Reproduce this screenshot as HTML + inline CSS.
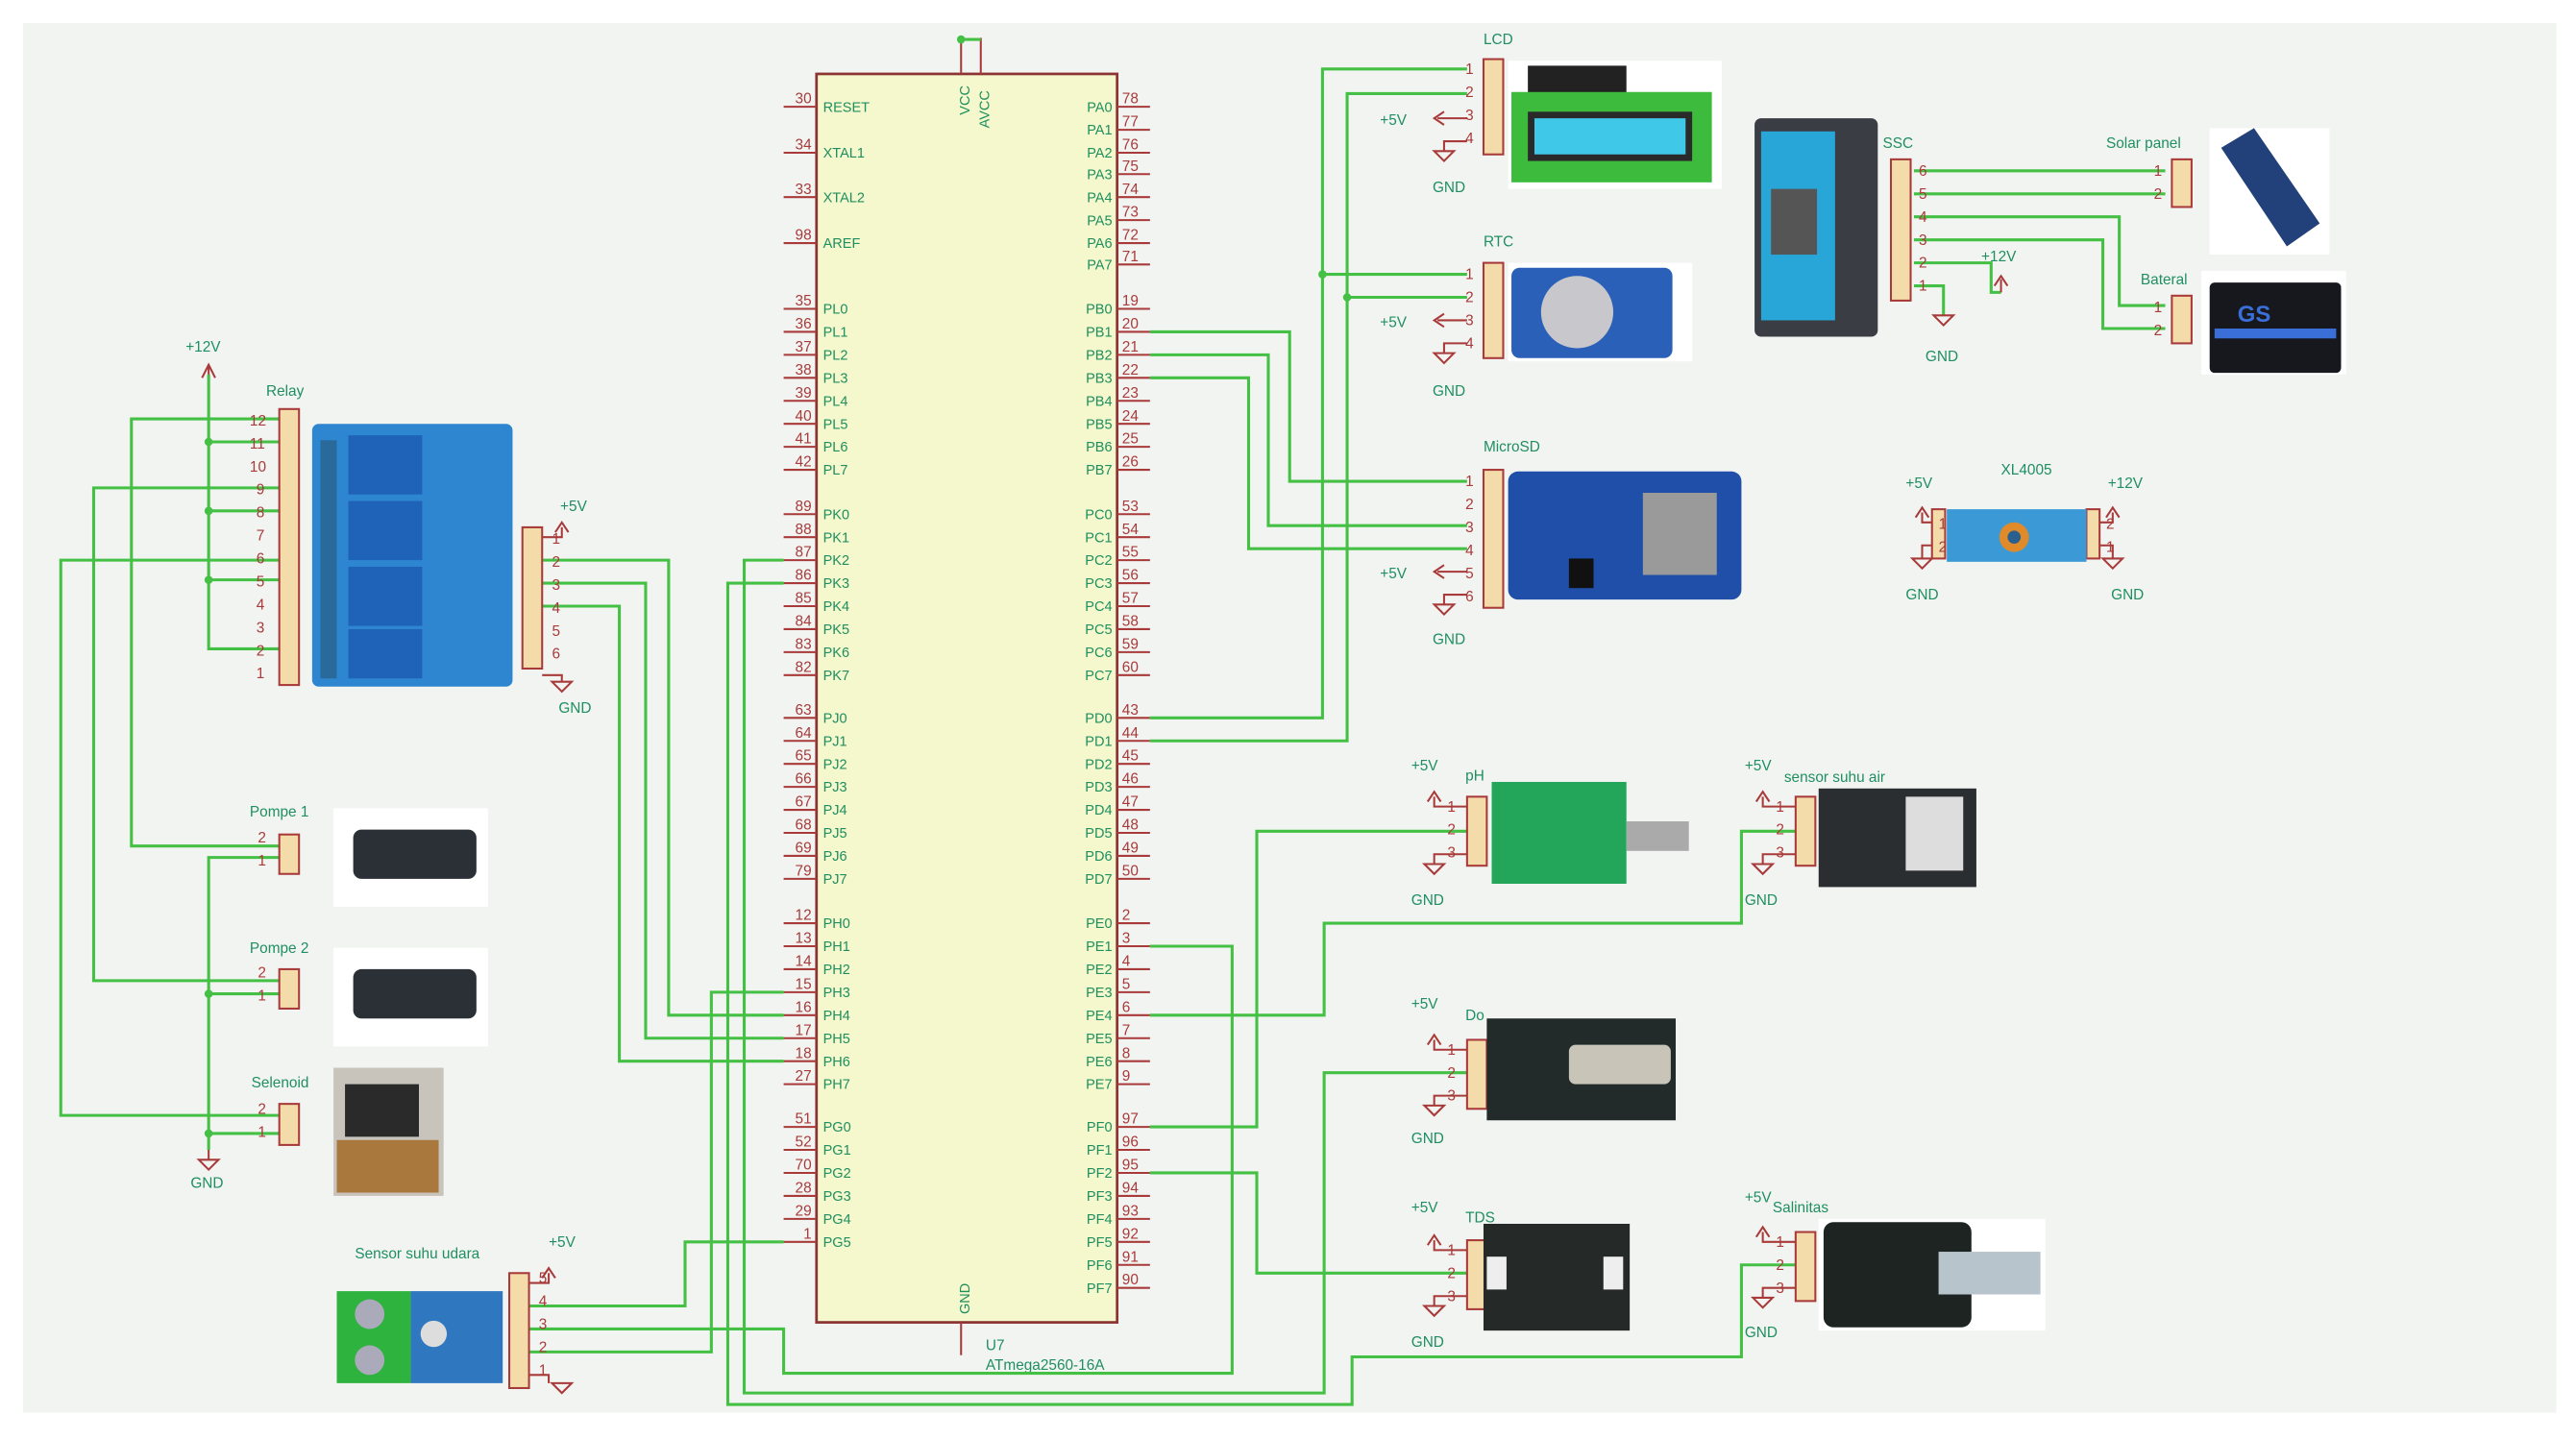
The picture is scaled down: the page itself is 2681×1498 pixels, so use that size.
<!DOCTYPE html>
<html><head><meta charset="utf-8"><style>
html,body{margin:0;padding:0;background:#fff;}
svg{display:block;}
text{font-family:"Liberation Sans",sans-serif;}
.n{fill:#a83a3a;font-size:9px;}
.g{fill:#1f8f60;font-size:8.5px;}
.t{fill:#1f8f60;font-size:9px;}
.w{stroke:#44c044;stroke-width:1.8;fill:none;}
.p{stroke:#a83a3a;stroke-width:1.2;fill:none;}
.c{fill:#f3dcaa;stroke:#a83a3a;stroke-width:1.2;}
</style></head><body>
<svg width="2681" height="1498" viewBox="0 0 1568 876" preserveAspectRatio="none" xmlns="http://www.w3.org/2000/svg">
<rect x="0" y="0" width="1568" height="876" fill="#fff"/>
<rect x="14" y="14" width="1542" height="846" fill="#f2f4f2"/>

<!-- MCU -->
<rect x="497" y="45" width="183" height="760" fill="#f4f8cc" stroke="#8c3434" stroke-width="1.6"/>
<path class="p" d="M585 45v-22M597 45v-22M585 805v20"/>
<path d="M585 24h12" stroke="#44c044" stroke-width="1.8"/>
<text class="g" transform="translate(590,70) rotate(-90)">VCC</text>
<text class="g" transform="translate(602,78) rotate(-90)">AVCC</text>
<text class="g" transform="translate(590,800) rotate(-90)">GND</text>
<text class="t" x="600" y="822">U7</text>
<text class="t" x="600" y="834">ATmega2560-16A</text>

<!-- left pins -->
<path class="p" d="M477 65h20M477 93h20M477 120h20M477 148h20
M477 188h20M477 202h20M477 216h20M477 230h20M477 244h20M477 258h20M477 272h20M477 286h20
M477 313h20M477 327h20M477 341h20M477 355h20M477 369h20M477 383h20M477 397h20M477 411h20
M477 437h20M477 451h20M477 465h20M477 479h20M477 493h20M477 507h20M477 521h20M477 535h20
M477 562h20M477 576h20M477 590h20M477 604h20M477 618h20M477 632h20M477 646h20M477 660h20
M477 686h20M477 700h20M477 714h20M477 728h20M477 742h20M477 756h20
M680 65h20M680 79h20M680 93h20M680 106h20M680 120h20M680 134h20M680 148h20M680 161h20
M680 188h20M680 202h20M680 216h20M680 230h20M680 244h20M680 258h20M680 272h20M680 286h20
M680 313h20M680 327h20M680 341h20M680 355h20M680 369h20M680 383h20M680 397h20M680 411h20
M680 437h20M680 451h20M680 465h20M680 479h20M680 493h20M680 507h20M680 521h20M680 535h20
M680 562h20M680 576h20M680 590h20M680 604h20M680 618h20M680 632h20M680 646h20M680 660h20
M680 686h20M680 700h20M680 714h20M680 728h20M680 742h20M680 756h20M680 770h20M680 784h20"/>
<g class="n" text-anchor="end">
<text x="494" y="63">30</text><text x="494" y="91">34</text><text x="494" y="118">33</text><text x="494" y="146">98</text>
<text x="494" y="186">35</text><text x="494" y="200">36</text><text x="494" y="214">37</text><text x="494" y="228">38</text><text x="494" y="242">39</text><text x="494" y="256">40</text><text x="494" y="270">41</text><text x="494" y="284">42</text>
<text x="494" y="311">89</text><text x="494" y="325">88</text><text x="494" y="339">87</text><text x="494" y="353">86</text><text x="494" y="367">85</text><text x="494" y="381">84</text><text x="494" y="395">83</text><text x="494" y="409">82</text>
<text x="494" y="435">63</text><text x="494" y="449">64</text><text x="494" y="463">65</text><text x="494" y="477">66</text><text x="494" y="491">67</text><text x="494" y="505">68</text><text x="494" y="519">69</text><text x="494" y="533">79</text>
<text x="494" y="560">12</text><text x="494" y="574">13</text><text x="494" y="588">14</text><text x="494" y="602">15</text><text x="494" y="616">16</text><text x="494" y="630">17</text><text x="494" y="644">18</text><text x="494" y="658">27</text>
<text x="494" y="684">51</text><text x="494" y="698">52</text><text x="494" y="712">70</text><text x="494" y="726">28</text><text x="494" y="740">29</text><text x="494" y="754">1</text>
</g>
<g class="g">
<text x="501" y="68">RESET</text><text x="501" y="96">XTAL1</text><text x="501" y="123">XTAL2</text><text x="501" y="151">AREF</text>
<text x="501" y="191">PL0</text><text x="501" y="205">PL1</text><text x="501" y="219">PL2</text><text x="501" y="233">PL3</text><text x="501" y="247">PL4</text><text x="501" y="261">PL5</text><text x="501" y="275">PL6</text><text x="501" y="289">PL7</text>
<text x="501" y="316">PK0</text><text x="501" y="330">PK1</text><text x="501" y="344">PK2</text><text x="501" y="358">PK3</text><text x="501" y="372">PK4</text><text x="501" y="386">PK5</text><text x="501" y="400">PK6</text><text x="501" y="414">PK7</text>
<text x="501" y="440">PJ0</text><text x="501" y="454">PJ1</text><text x="501" y="468">PJ2</text><text x="501" y="482">PJ3</text><text x="501" y="496">PJ4</text><text x="501" y="510">PJ5</text><text x="501" y="524">PJ6</text><text x="501" y="538">PJ7</text>
<text x="501" y="565">PH0</text><text x="501" y="579">PH1</text><text x="501" y="593">PH2</text><text x="501" y="607">PH3</text><text x="501" y="621">PH4</text><text x="501" y="635">PH5</text><text x="501" y="649">PH6</text><text x="501" y="663">PH7</text>
<text x="501" y="689">PG0</text><text x="501" y="703">PG1</text><text x="501" y="717">PG2</text><text x="501" y="731">PG3</text><text x="501" y="745">PG4</text><text x="501" y="759">PG5</text>
</g>
<g class="g" text-anchor="end">
<text x="677" y="68">PA0</text><text x="677" y="82">PA1</text><text x="677" y="96">PA2</text><text x="677" y="109">PA3</text><text x="677" y="123">PA4</text><text x="677" y="137">PA5</text><text x="677" y="151">PA6</text><text x="677" y="164">PA7</text>
<text x="677" y="191">PB0</text><text x="677" y="205">PB1</text><text x="677" y="219">PB2</text><text x="677" y="233">PB3</text><text x="677" y="247">PB4</text><text x="677" y="261">PB5</text><text x="677" y="275">PB6</text><text x="677" y="289">PB7</text>
<text x="677" y="316">PC0</text><text x="677" y="330">PC1</text><text x="677" y="344">PC2</text><text x="677" y="358">PC3</text><text x="677" y="372">PC4</text><text x="677" y="386">PC5</text><text x="677" y="400">PC6</text><text x="677" y="414">PC7</text>
<text x="677" y="440">PD0</text><text x="677" y="454">PD1</text><text x="677" y="468">PD2</text><text x="677" y="482">PD3</text><text x="677" y="496">PD4</text><text x="677" y="510">PD5</text><text x="677" y="524">PD6</text><text x="677" y="538">PD7</text>
<text x="677" y="565">PE0</text><text x="677" y="579">PE1</text><text x="677" y="593">PE2</text><text x="677" y="607">PE3</text><text x="677" y="621">PE4</text><text x="677" y="635">PE5</text><text x="677" y="649">PE6</text><text x="677" y="663">PE7</text>
<text x="677" y="689">PF0</text><text x="677" y="703">PF1</text><text x="677" y="717">PF2</text><text x="677" y="731">PF3</text><text x="677" y="745">PF4</text><text x="677" y="759">PF5</text><text x="677" y="773">PF6</text><text x="677" y="787">PF7</text>
</g>
<g class="n">
<text x="683" y="63">78</text><text x="683" y="77">77</text><text x="683" y="91">76</text><text x="683" y="104">75</text><text x="683" y="118">74</text><text x="683" y="132">73</text><text x="683" y="146">72</text><text x="683" y="159">71</text>
<text x="683" y="186">19</text><text x="683" y="200">20</text><text x="683" y="214">21</text><text x="683" y="228">22</text><text x="683" y="242">23</text><text x="683" y="256">24</text><text x="683" y="270">25</text><text x="683" y="284">26</text>
<text x="683" y="311">53</text><text x="683" y="325">54</text><text x="683" y="339">55</text><text x="683" y="353">56</text><text x="683" y="367">57</text><text x="683" y="381">58</text><text x="683" y="395">59</text><text x="683" y="409">60</text>
<text x="683" y="435">43</text><text x="683" y="449">44</text><text x="683" y="463">45</text><text x="683" y="477">46</text><text x="683" y="491">47</text><text x="683" y="505">48</text><text x="683" y="519">49</text><text x="683" y="533">50</text>
<text x="683" y="560">2</text><text x="683" y="574">3</text><text x="683" y="588">4</text><text x="683" y="602">5</text><text x="683" y="616">6</text><text x="683" y="630">7</text><text x="683" y="644">8</text><text x="683" y="658">9</text>
<text x="683" y="684">97</text><text x="683" y="698">96</text><text x="683" y="712">95</text><text x="683" y="726">94</text><text x="683" y="740">93</text><text x="683" y="754">92</text><text x="683" y="768">91</text><text x="683" y="782">90</text>
</g>

<!-- WIRES -->
<g class="w">
<!-- relay left -->
<path d="M170 255H80V515H170"/>
<path d="M170 297H57V597H170"/>
<path d="M170 341H37V679H170"/>
<path d="M127 228V395H170M127 269H170M127 311H170M127 353H170"/>
<path d="M170 522H127V700M127 605H170M127 690H170"/>
<!-- relay right to MCU -->
<path d="M330 341H407V618H477"/>
<path d="M330 355H393V632H477"/>
<path d="M330 369H377V646H477"/>
<!-- sensor suhu udara -->
<path d="M322 795H417V756H477"/>
<path d="M322 809H477V836H750V576H700"/>
<path d="M322 823H433V604H477"/>
<!-- PK2 / PK3 -->
<path d="M477 341H453V848H806V653H893"/>
<path d="M477 355H443V855H823V826H1060V770H1093"/>
<!-- right side -->
<path d="M700 437H805V42H893M805 167H893"/>
<path d="M700 451H820V57H893M820 181H893"/>
<path d="M700 202H785V293H893"/>
<path d="M700 216H772V320H893"/>
<path d="M700 230H760V334H893"/>
<path d="M700 686H765V506H893"/>
<path d="M700 618H806V562H1060V506H1093"/>
<path d="M700 714H765V775H893"/>
<!-- SSC -->
<path d="M1165 104H1318M1165 118H1318M1165 132H1290V186H1318M1165 146H1280V200H1318M1165 160H1212V178H1218M1165 174H1183V192"/>
</g>
<g fill="#44c044">
<circle cx="127" cy="269" r="2.5"/><circle cx="127" cy="311" r="2.5"/><circle cx="127" cy="353" r="2.5"/>
<circle cx="127" cy="605" r="2.5"/><circle cx="127" cy="690" r="2.5"/>
<circle cx="805" cy="167" r="2.5"/><circle cx="820" cy="181" r="2.5"/>
<circle cx="585" cy="24" r="2.5"/>
</g>

<!-- power symbols -->
<g class="p">
<path d="M127 228V222M123 230l4-8 4 8"/>
<path d="M127 700v6M121 706h12l-6 6z"/>
<path d="M330 327h12v-6M338 324l4-6 4 6"/>
<path d="M330 411h12v4M336 415h12l-6 6z"/>
<path d="M322 781h12v-6M330 778l4-6 4 6"/>
<path d="M322 837h12v5M336 842h12l-6 6z"/>
<path d="M893 72h-18M879 68l-6 4 6 4M893 86h-14v6M873 92h12l-6 6z"/>
<path d="M893 195h-18M879 191l-6 4 6 4M893 209h-14v6M873 215h12l-6 6z"/>
<path d="M893 348h-18M879 344l-6 4 6 4M893 362h-14v6M873 368h12l-6 6z"/>
<path d="M1218 178v-8M1214 174l4-6 4 6M1183 192h-6l6 6 6-6z"/>
<path d="M893 491h-20v-6M869 488l4-6 4 6M893 520h-20v6M867 526h12l-6 6z"/>
<path d="M1093 491h-20v-6M1069 488l4-6 4 6M1093 520h-20v6M1067 526h12l-6 6z"/>
<path d="M893 639h-20v-6M869 636l4-6 4 6M893 667h-20v6M867 673h12l-6 6z"/>
<path d="M893 761h-20v-6M869 758l4-6 4 6M893 789h-20v6M867 795h12l-6 6z"/>
<path d="M1093 756h-20v-6M1069 753l4-6 4 6M1093 784h-20v6M1067 790h12l-6 6z"/>
<path d="M1178 318h-8v-6M1166 315l4-6 4 6M1178 332h-8v8M1164 340h12l-6 6z"/>
<path d="M1278 318h8v-6M1282 315l4-6 4 6M1278 332h8v8M1280 340h12l-6 6z"/>
</g>

<!-- connectors -->
<g class="c">
<rect x="170" y="249" width="12" height="168"/>
<rect x="318" y="321" width="12" height="86"/>
<rect x="170" y="508" width="12" height="24"/>
<rect x="170" y="590" width="12" height="24"/>
<rect x="170" y="672" width="12" height="25"/>
<rect x="310" y="775" width="12" height="70"/>
<rect x="903" y="36" width="12" height="58"/>
<rect x="903" y="160" width="12" height="58"/>
<rect x="903" y="286" width="12" height="84"/>
<rect x="1151" y="97" width="12" height="86"/>
<rect x="1322" y="97" width="12" height="29"/>
<rect x="1322" y="180" width="12" height="29"/>
<rect x="893" y="485" width="12" height="42"/>
<rect x="1093" y="485" width="12" height="42"/>
<rect x="893" y="633" width="12" height="42"/>
<rect x="893" y="755" width="12" height="42"/>
<rect x="1093" y="750" width="12" height="42"/>
<rect x="1176" y="310" width="8" height="30"/><rect x="1270" y="310" width="8" height="30"/>
</g>
<g class="n">
<text x="152" y="259">12</text><text x="152" y="273">11</text><text x="152" y="287">10</text><text x="156" y="301">9</text><text x="156" y="315">8</text><text x="156" y="329">7</text><text x="156" y="343">6</text><text x="156" y="357">5</text><text x="156" y="371">4</text><text x="156" y="385">3</text><text x="156" y="399">2</text><text x="156" y="413">1</text>
<text x="336" y="331">1</text><text x="336" y="345">2</text><text x="336" y="359">3</text><text x="336" y="373">4</text><text x="336" y="387">5</text><text x="336" y="401">6</text>
<text x="157" y="513">2</text><text x="157" y="527">1</text><text x="157" y="595">2</text><text x="157" y="609">1</text><text x="157" y="678">2</text><text x="157" y="692">1</text>
<text x="328" y="781">5</text><text x="328" y="795">4</text><text x="328" y="809">3</text><text x="328" y="823">2</text><text x="328" y="837">1</text>
<text x="892" y="45">1</text><text x="892" y="59">2</text><text x="892" y="73">3</text><text x="892" y="87">4</text>
<text x="892" y="170">1</text><text x="892" y="184">2</text><text x="892" y="198">3</text><text x="892" y="212">4</text>
<text x="892" y="296">1</text><text x="892" y="310">2</text><text x="892" y="324">3</text><text x="892" y="338">4</text><text x="892" y="352">5</text><text x="892" y="366">6</text>
<text x="1168" y="107">6</text><text x="1168" y="121">5</text><text x="1168" y="135">4</text><text x="1168" y="149">3</text><text x="1168" y="163">2</text><text x="1168" y="177">1</text>
<text x="1311" y="107">1</text><text x="1311" y="121">2</text><text x="1311" y="190">1</text><text x="1311" y="204">2</text>
<text x="881" y="494">1</text><text x="881" y="508">2</text><text x="881" y="522">3</text>
<text x="1081" y="494">1</text><text x="1081" y="508">2</text><text x="1081" y="522">3</text>
<text x="881" y="642">1</text><text x="881" y="656">2</text><text x="881" y="670">3</text>
<text x="881" y="764">1</text><text x="881" y="778">2</text><text x="881" y="792">3</text>
<text x="1081" y="759">1</text><text x="1081" y="773">2</text><text x="1081" y="787">3</text>
<text x="1180" y="322">1</text><text x="1180" y="336">2</text><text x="1282" y="322">2</text><text x="1282" y="336">1</text>
</g>

<!-- labels -->
<g class="t">
<text x="113" y="214">+12V</text><text x="162" y="241">Relay</text><text x="341" y="311">+5V</text><text x="340" y="434">GND</text>
<text x="152" y="497">Pompe 1</text><text x="152" y="580">Pompe 2</text><text x="153" y="662">Selenoid</text><text x="116" y="723">GND</text>
<text x="216" y="766">Sensor suhu udara</text><text x="334" y="759">+5V</text>
<text x="903" y="27">LCD</text><text x="840" y="76">+5V</text><text x="872" y="117">GND</text>
<text x="903" y="150">RTC</text><text x="840" y="199">+5V</text><text x="872" y="241">GND</text>
<text x="903" y="275">MicroSD</text><text x="840" y="352">+5V</text><text x="872" y="392">GND</text>
<text x="1146" y="90">SSC</text><text x="1282" y="90">Solar panel</text><text x="1303" y="173">Bateral</text><text x="1206" y="159">+12V</text><text x="1172" y="220">GND</text>
<text x="1160" y="297">+5V</text><text x="1218" y="289">XL4005</text><text x="1283" y="297">+12V</text><text x="1160" y="365">GND</text><text x="1285" y="365">GND</text>
<text x="859" y="469">+5V</text><text x="892" y="475">pH</text><text x="859" y="551">GND</text>
<text x="1062" y="469">+5V</text><text x="1086" y="476">sensor suhu air</text><text x="1062" y="551">GND</text>
<text x="859" y="614">+5V</text><text x="892" y="621">Do</text><text x="859" y="696">GND</text>
<text x="859" y="738">+5V</text><text x="892" y="744">TDS</text><text x="859" y="820">GND</text>
<text x="1062" y="732">+5V</text><text x="1079" y="738">Salinitas</text><text x="1062" y="814">GND</text>
</g>

<!-- module pictures -->
<rect x="190" y="258" width="122" height="160" rx="4" fill="#2f86d0"/>
<rect x="212" y="265" width="45" height="36" fill="#1e63b8"/><rect x="212" y="305" width="45" height="36" fill="#1e63b8"/><rect x="212" y="345" width="45" height="36" fill="#1e63b8"/><rect x="212" y="383" width="45" height="30" fill="#1e63b8"/>
<rect x="195" y="268" width="10" height="145" fill="#2a6a9a"/>
<rect x="203" y="492" width="94" height="60" fill="#fff"/><rect x="215" y="505" width="75" height="30" rx="5" fill="#2b2f36"/>
<rect x="203" y="577" width="94" height="60" fill="#fff"/><rect x="215" y="590" width="75" height="30" rx="5" fill="#2b2f36"/>
<rect x="203" y="650" width="67" height="78" fill="#c8c4bc"/><rect x="210" y="660" width="45" height="32" fill="#2a2a2a"/><rect x="205" y="694" width="62" height="32" fill="#a8783c"/>
<rect x="205" y="786" width="45" height="56" fill="#2fb33f"/><rect x="250" y="786" width="56" height="56" fill="#2f78c0"/><circle cx="264" cy="812" r="8" fill="#ddd"/><circle cx="225" cy="800" r="9" fill="#aab"/><circle cx="225" cy="828" r="9" fill="#aab"/>
<rect x="918" y="37" width="130" height="78" fill="#fff"/><rect x="930" y="40" width="60" height="20" fill="#222"/><rect x="920" y="56" width="122" height="55" fill="#3dbb3d"/><rect x="930" y="68" width="100" height="30" fill="#2a2a2a"/><rect x="934" y="72" width="92" height="22" fill="#40c8e8"/>
<rect x="1068" y="72" width="75" height="133" rx="4" fill="#3a3e44"/><rect x="1072" y="80" width="45" height="115" fill="#29a6d8"/><rect x="1078" y="115" width="28" height="40" fill="#555"/>
<rect x="1345" y="78" width="73" height="77" fill="#fff"/><path d="M1352 90l20-12 40 58-20 14z" fill="#22407a"/>
<rect x="1340" y="165" width="88" height="63" fill="#fff"/><rect x="1345" y="172" width="80" height="55" rx="3" fill="#16181e"/><text x="1362" y="196" fill="#3a6fd8" font-size="14" font-weight="bold">GS</text><rect x="1348" y="200" width="74" height="6" fill="#3a6fd8"/>
<rect x="918" y="160" width="112" height="60" fill="#fff"/><rect x="920" y="163" width="98" height="55" rx="5" fill="#2a60b8"/><circle cx="960" cy="190" r="22" fill="#c8c8cc"/>
<rect x="918" y="287" width="142" height="78" rx="6" fill="#1f4fa8"/><rect x="1000" y="300" width="45" height="50" fill="#9a9a9a"/><rect x="955" y="340" width="15" height="18" fill="#111"/>
<rect x="1185" y="310" width="85" height="32" fill="#3b9ad6"/><circle cx="1226" cy="327" r="9" fill="#e08a2a"/><circle cx="1226" cy="327" r="4" fill="#2a6090"/>
<rect x="908" y="476" width="82" height="62" fill="#23a65a"/><rect x="990" y="500" width="38" height="18" fill="#aaa"/>
<rect x="1107" y="480" width="96" height="60" fill="#2a2e30"/><rect x="1160" y="485" width="35" height="45" fill="#ddd"/>
<rect x="905" y="620" width="115" height="62" fill="#222b2a"/><rect x="955" y="636" width="62" height="24" rx="4" fill="#c8c4b8"/>
<rect x="903" y="745" width="89" height="65" fill="#252a28"/><rect x="905" y="765" width="12" height="20" fill="#eee"/><rect x="976" y="765" width="12" height="20" fill="#eee"/>
<rect x="1107" y="742" width="138" height="68" fill="#fff"/><rect x="1110" y="744" width="90" height="64" rx="6" fill="#1e2422"/><rect x="1180" y="762" width="62" height="26" fill="#b8c4cc"/>
</svg>
</body></html>
